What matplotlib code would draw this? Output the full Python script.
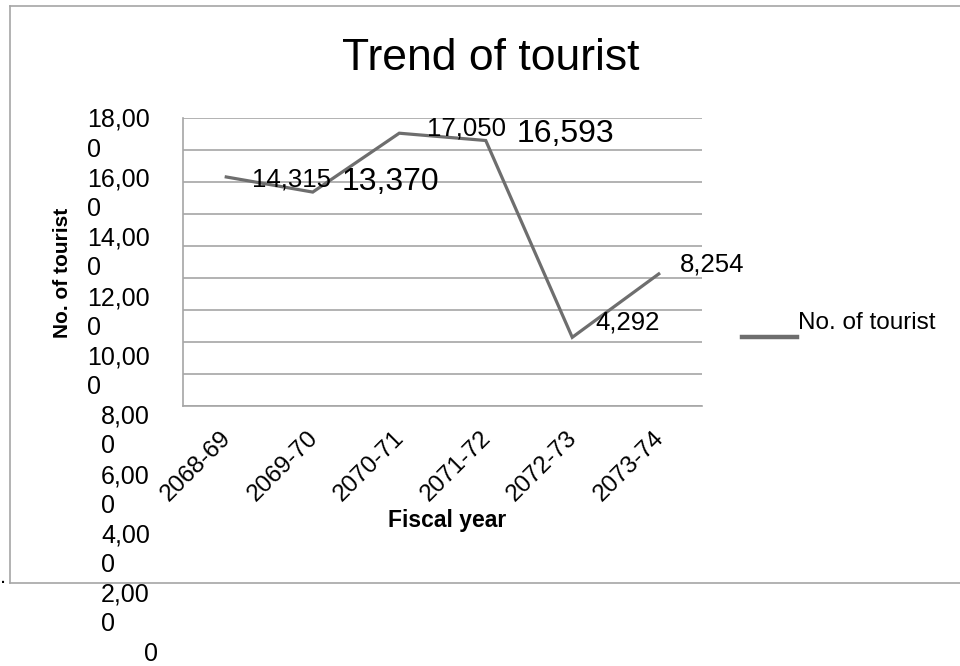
import matplotlib
matplotlib.use("Agg")
import matplotlib.pyplot as plt
from matplotlib.lines import Line2D
from matplotlib.transforms import ScaledTranslation

# Data
periods = ["2068-69", "2069-70", "2070-71", "2071-72", "2072-73", "2073-74"]
tourists = [14315, 13370, 17050, 16593, 4292, 8254]
y_ticks = [18000, 16000, 14000, 12000, 10000, 8000, 6000, 4000, 2000, 0]
# value-axis labels as they wrap in the narrow label column
y_tick_lines = ["18,00", "0", "16,00", "0", "14,00", "0", "12,00", "0", "10,00", "0",
                "8,00", "0", "6,00", "0", "4,00", "0", "2,00", "0", "0"]

plt.rcParams["font.family"] = ["Liberation Sans", "DejaVu Sans"]

W, H = 960, 666
fig = plt.figure(figsize=(W / 100, H / 100), dpi=100)
fig.patch.set_facecolor("white")


def fx(px):
    return px / W


def fy(py):
    return 1 - py / H


GRID = "#a6a6a6"
LINE = "#6e6e6e"

# outer chart frame
for xs, ys in [((10, 960), (6, 6)), ((10, 10), (6, 583)), ((10, 960), (583, 583))]:
    fig.add_artist(Line2D([fx(x) for x in xs], [fy(y) for y in ys],
                          color=GRID, lw=1.2, transform=fig.transFigure))
fig.text(fx(0.5), fy(583), ".", fontsize=16, color="black", ha="left", va="baseline")

# plot area
ax = fig.add_axes([fx(183), fy(406), (702 - 183) / W, (406 - 118) / H])
ax.set_xlim(-0.5, len(periods) - 0.5)
ax.set_ylim(0, 18000)
ax.set_yticks(y_ticks)
ax.yaxis.grid(True, color=GRID, lw=1.2)
ax.set_axisbelow(True)
for s in ("top", "right"):
    ax.spines[s].set_visible(False)
for s in ("left", "bottom"):
    ax.spines[s].set_color(GRID)
    ax.spines[s].set_linewidth(1.2)
ax.tick_params(axis="y", left=False, labelleft=False)

ax.plot(range(len(periods)), tourists, color=LINE, lw=2.3, solid_joinstyle="miter")

# data labels
label_sizes = [18.5, 23, 18.5, 23, 18.5, 18.5]
label_offsets = [(26, -10), (29, 2), (28, -2), (31, -1), (23, 8), (21, 2)]
for i, v in enumerate(tourists):
    ax.annotate(f"{v:,}", xy=(i, v), xytext=label_offsets[i], textcoords="offset pixels",
                ha="left", va="baseline", fontsize=label_sizes[i], color="black",
                annotation_clip=False)

# category labels
ax.set_xticks(range(len(periods)))
ax.set_xticklabels(periods, rotation=45, ha="right", va="top", rotation_mode="anchor",
                   fontsize=17.5)
ax.tick_params(axis="x", length=0, pad=0)
shift = ScaledTranslation(-6 / 100, -21 / 100, fig.dpi_scale_trans)
for lbl in ax.get_xticklabels():
    lbl.set_transform(lbl.get_transform() + shift)

# value-axis labels
renderer = fig.canvas.get_renderer()
step = 29.67
left_x = None
for k, txt in enumerate(y_tick_lines):
    base = 127 + step * k
    if k == len(y_tick_lines) - 1:
        fig.text(fx(151), fy(base), txt, ha="center", va="baseline", fontsize=18)
    elif k % 2 == 0:
        t = fig.text(fx(150), fy(base), txt, ha="right", va="baseline", fontsize=18)
        left_x = t.get_window_extent(renderer=renderer).x0
    else:
        fig.text(left_x / W, fy(base), txt, ha="left", va="baseline", fontsize=18)

# titles
fig.text(fx(491), fy(70), "Trend of tourist", ha="center", va="baseline", fontsize=32)
fig.text(fx(447), fy(527), "Fiscal year", ha="center", va="baseline", fontsize=16.5,
         fontweight="bold")
fig.text(fx(68), fy(273), "No. of tourist", ha="center", va="baseline", rotation=90,
         rotation_mode="anchor", fontsize=15, fontweight="bold")

# legend
fig.add_artist(Line2D([fx(742), fx(797)], [fy(337), fy(337)], color=LINE, lw=3.2,
                      transform=fig.transFigure))
fig.text(fx(798), fy(329), "No. of tourist", ha="left", va="baseline", fontsize=17.5)

fig.savefig("out.png", dpi=100)
